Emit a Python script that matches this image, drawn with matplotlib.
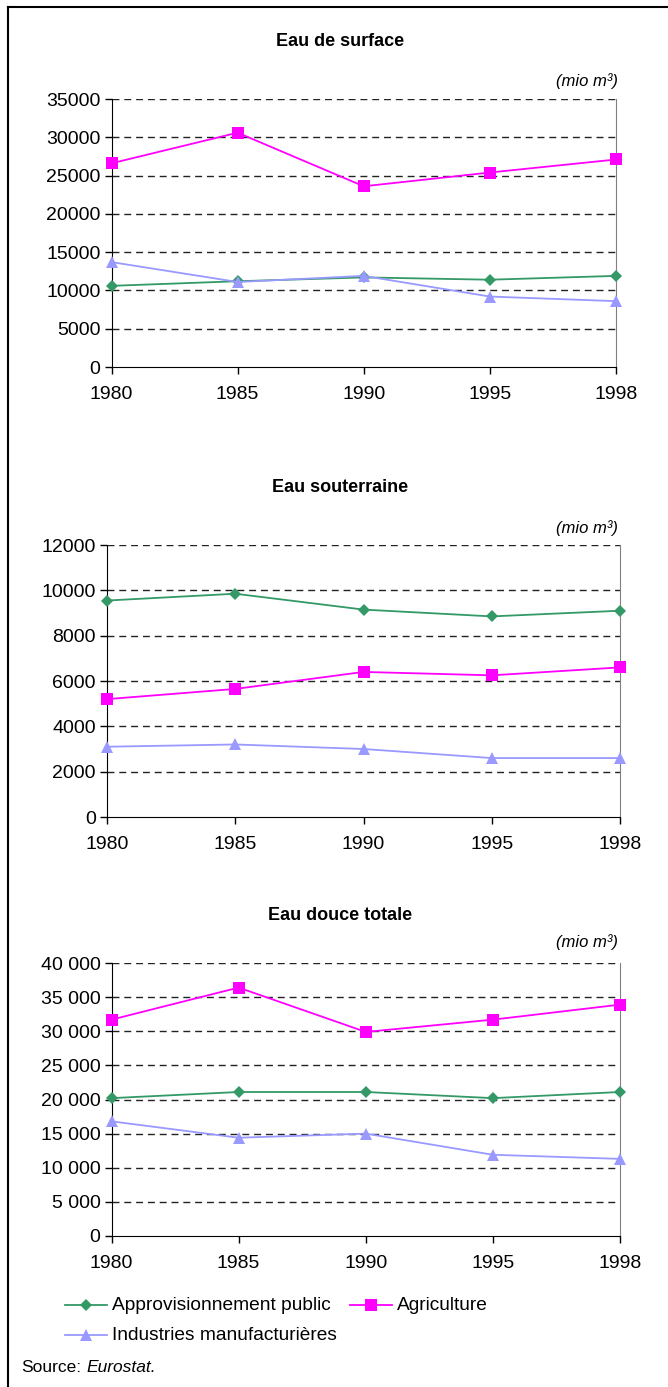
import matplotlib.pyplot as plt
from matplotlib.lines import Line2D
from matplotlib.text import Annotation
from matplotlib.ticker import FuncFormatter

plt.rcParams['font.family'] = ['Liberation Sans', 'DejaVu Sans']

years = ['1980', '1985', '1990', '1995', '1998']

# Eau de surface
surf_public = [10600, 11200, 11700, 11400, 11900]
surf_agri = [26600, 30600, 23600, 25400, 27100]
surf_ind = [13700, 11100, 11900, 9200, 8600]

# Eau souterraine
sout_public = [9550, 9850, 9150, 8850, 9100]
sout_agri = [5200, 5650, 6400, 6250, 6600]
sout_ind = [3100, 3200, 3000, 2600, 2600]

# Eau douce totale
tot_public = [20200, 21100, 21100, 20200, 21100]
tot_agri = [31700, 36400, 29900, 31700, 33900]
tot_ind = [16800, 14400, 15000, 11900, 11300]

labels = ['Approvisionnement public', 'Agriculture', 'Industries manufacturières']
colors = ['#339966', '#FF00FF', '#9999FF']
markers = ['D', 's', '^']
msizes = [6, 8, 8]

W, H = 668, 1387
fig = plt.figure(figsize=(W / 100, H / 100), dpi=100)


def box(l, r, t, b):
    return [l / W, 1 - b / H, (r - l) / W, (b - t) / H]


def space_fmt(v, pos):
    return f'{int(v):,}'.replace(',', ' ')


panels = [
    ('Eau de surface', box(111.5, 616, 99, 367), [surf_public, surf_agri, surf_ind],
     35000, 5000, None, 42, 81),
    ('Eau souterraine', box(107, 620, 545, 817), [sout_public, sout_agri, sout_ind],
     12000, 2000, None, 487, 528),
    ('Eau douce totale', box(111.5, 620, 963, 1236), [tot_public, tot_agri, tot_ind],
     40000, 5000, space_fmt, 915, 942),
]

for title, rect, series, ymax, step, fmt, ty, uy in panels:
    ax = fig.add_axes(rect)
    x = list(range(len(years)))
    for vals, c, m, ms in zip(series, colors, markers, msizes):
        ax.plot(x, vals, color=c, marker=m, markersize=ms, linewidth=1.3,
                markeredgewidth=0, zorder=3, clip_on=False)
    ax.set_xlim(0, len(years) - 1)
    ax.set_ylim(0, ymax)
    ax.set_xticks(x)
    ax.set_xticklabels(years)
    ax.set_yticks(range(0, ymax + 1, step))
    if fmt:
        ax.yaxis.set_major_formatter(FuncFormatter(fmt))
    for yv in range(step, ymax + 1, step):
        ax.axhline(yv, color='#222222', linestyle=(0, (5, 3.5)), linewidth=1.0, zorder=1)
    ax.spines['top'].set_visible(False)
    ax.spines['right'].set_color('#808080')
    ax.tick_params(axis='both', direction='out', length=5, width=1,
                   labelsize=14, pad=3)
    ax.tick_params(axis='x', pad=9)
    fig.text(340 / W, 1 - ty / H, title, ha='center', va='center',
             fontsize=13, fontweight='bold')
    fig.text(618 / W, 1 - uy / H, '(mio m³)', ha='right', va='center',
             fontsize=12, style='italic')

# legend
leg_pos = [(65, 1305), (350, 1305), (65, 1335)]
for lab, c, m, ms, (lx, ly) in zip(labels, colors, markers, msizes, leg_pos):
    fig.lines.append(Line2D([lx / W, (lx + 42) / W], [1 - ly / H, 1 - ly / H],
                            transform=fig.transFigure, color=c, linewidth=1.3))
    fig.lines.append(Line2D([(lx + 21) / W], [1 - ly / H], transform=fig.transFigure,
                            color=c, marker=m, markersize=ms, markeredgewidth=0))
    fig.text((lx + 47) / W, 1 - ly / H, lab, ha='left', va='center', fontsize=13.8)

src = fig.text(21 / W, 1 - 1368 / H, 'Source:', ha='left', va='center', fontsize=12.5)
fig.add_artist(Annotation('Eurostat.', xy=(1, 0.5), xycoords=src,
                          xytext=(3.5, 0), textcoords='offset points',
                          ha='left', va='center', fontsize=12.5, style='italic'))

# outer frame (top and left edges)
fig.lines.append(Line2D([8 / W, 8 / W], [0, 1 - 7 / H], transform=fig.transFigure,
                        color='black', linewidth=1.5))
fig.lines.append(Line2D([8 / W, 1], [1 - 7 / H, 1 - 7 / H], transform=fig.transFigure,
                        color='black', linewidth=1.5))

fig.savefig('out.png', dpi=100)
